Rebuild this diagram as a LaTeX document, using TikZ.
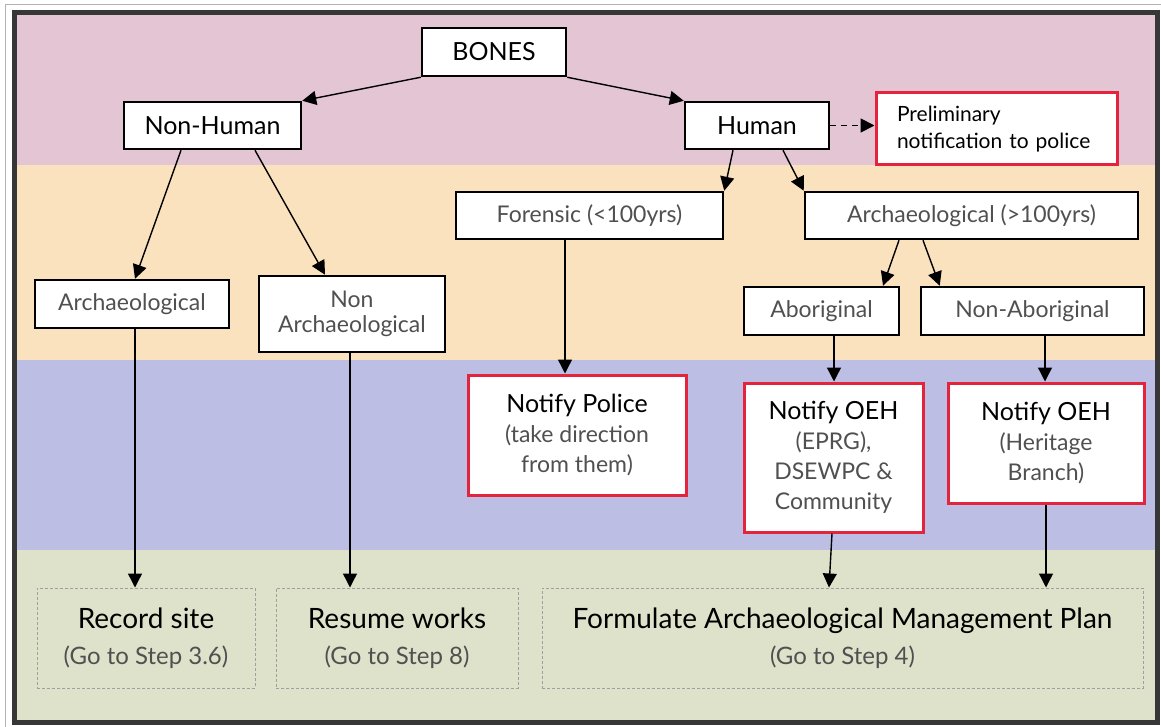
\documentclass[tikz,border=0pt]{standalone}
\usepackage{fontspec}
\setmainfont{Lato}
\usetikzlibrary{arrows.meta}

\definecolor{bandpink}{RGB}{228,197,212}
\definecolor{bandpeach}{RGB}{250,226,190}
\definecolor{bandblue}{RGB}{188,190,228}
\definecolor{bandsage}{RGB}{222,226,202}
\definecolor{alertred}{RGB}{228,36,60}
\definecolor{inkgray}{RGB}{80,80,80}
\definecolor{framegray}{RGB}{55,55,55}

\begin{document}
\begin{tikzpicture}[x=1pt, y=-1pt, >={Triangle[length=14pt,width=14pt]},
    box/.style={draw=black, fill=white, line width=2.5pt, inner sep=0pt, align=center},
    redbox/.style={draw=alertred, fill=white, line width=3pt, inner sep=0pt, align=center},
    stepbox/.style={draw=gray!75, densely dashed, line width=1pt, inner sep=0pt, align=center},
    flow/.style={->, line width=1.4pt},
    headtxt/.style={font=\fontsize{25}{30}\selectfont},
    lighttxt/.style={font=\fontsize{23}{25}\selectfont, text=inkgray}]
    \useasboundingbox (0,0) rectangle (1161,727);

    % frame
    \fill[white] (0,0) rectangle (1161,727);
    \draw[gray!60, line width=1pt] (5,727) -- (5,5) -- (1161,5);
    \fill[bandpink] (14,13) rectangle (1157,165);
    \fill[bandpeach] (14,165) rectangle (1157,360);
    \fill[bandblue] (14,360) rectangle (1157,550);
    \fill[bandsage] (14,550) rectangle (1157,722);
    \draw[framegray, line width=5pt] (14,13) rectangle (1157,722);

    % first split
    \node[box, headtxt, minimum width=144pt, minimum height=48pt] (bones) at (494,52) {BONES};
    \node[box, headtxt, minimum width=177pt, minimum height=47pt] (nonhuman) at (212.5,125.5) {Non-Human};
    \node[box, headtxt, minimum width=144pt, minimum height=47pt] (human) at (757,125.5) {Human};
    \node[redbox, font=\fontsize{21}{27}\selectfont, align=left, text width=199pt, inner xsep=21pt, minimum height=72pt] (prelim) at (996.5,129) {Preliminary\\notification to police};

    % age
    \node[box, lighttxt, minimum width=267pt, minimum height=47pt] (forensic) at (589.5,215.5) {Forensic (<100yrs)};
    \node[box, lighttxt, minimum width=333pt, minimum height=47pt] (arch2) at (971.5,215.5) {Archaeological (>100yrs)};

    % second level
    \node[box, lighttxt, minimum width=194pt, minimum height=48pt] (arch1) at (132,304) {Archaeological};
    \node[box, lighttxt, minimum width=186pt, minimum height=76pt] (nonarch) at (352,314) {Non\\Archaeological};
    \node[box, lighttxt, minimum width=155pt, minimum height=48pt] (abor) at (821.5,311) {Aboriginal};
    \node[box, lighttxt, minimum width=223pt, minimum height=48pt] (nonabor) at (1032.5,311) {Non-Aboriginal};

    % notify
    \node[redbox, lighttxt, font=\fontsize{23}{30}\selectfont, minimum width=218pt, minimum height=120pt] (police) at (577,435)
        {{\color{black}\fontsize{25}{30}\selectfont Notify Police}\\(take direction\\from them)};
    \node[redbox, lighttxt, font=\fontsize{23}{30}\selectfont, minimum width=179pt, minimum height=149pt] (oeh1) at (833.5,457.5)
        {{\color{black}\fontsize{25}{30}\selectfont Notify OEH}\\(EPRG),\\DSEWPC \&\\Community};
    \node[redbox, lighttxt, font=\fontsize{23}{30}\selectfont, minimum width=196pt, minimum height=120pt] (oeh2) at (1046,443)
        {{\color{black}\fontsize{25}{30}\selectfont Notify OEH}\\(Heritage\\Branch)};

    % steps
    \node[stepbox, font=\fontsize{24}{36}\selectfont, minimum width=218pt, minimum height=100pt] (rec) at (146,638)
        {{\fontsize{28}{36}\selectfont Record site}\\{\color{inkgray}(Go to Step 3.6)}};
    \node[stepbox, font=\fontsize{24}{36}\selectfont, minimum width=242pt, minimum height=100pt] (resume) at (397,638)
        {{\fontsize{28}{36}\selectfont Resume works}\\{\color{inkgray}(Go to Step 8)}};
    \node[stepbox, font=\fontsize{24}{36}\selectfont, minimum width=601pt, minimum height=100pt] (formulate) at (842.5,638)
        {{\fontsize{28}{36}\selectfont Formulate Archaeological Management Plan}\\{\color{inkgray}(Go to Step 4)}};

    % connectors
    \draw[flow] (bones.south west) -- (nonhuman.north east);
    \draw[flow] (bones.south east) -- (human.north west);
    \draw[flow, line width=1.8pt, dash pattern=on 6pt off 5pt] (human.east) -- (human.east -| prelim.west);
    \draw[flow] ([xshift=-24pt]human.south) -- (forensic.north east);
    \draw[flow] ([xshift=26pt]human.south) -- (arch2.north west);
    \draw[flow] ([xshift=-31.5pt]nonhuman.south) -- ([xshift=3pt]arch1.north);
    \draw[flow] ([xshift=42.5pt]nonhuman.south) -- ([xshift=-27pt]nonarch.north);
    \draw[flow] ([xshift=-72.5pt]arch2.south) -- ([xshift=61.5pt]abor.north);
    \draw[flow] ([xshift=-48.5pt]arch2.south) -- ([xshift=20pt]nonabor.north west);
    \draw[flow] ([xshift=-24.5pt]forensic.south) -- ([xshift=-24.5pt]forensic.south |- police.north);
    \draw[flow] ([xshift=12.5pt]abor.south) -- ([xshift=12.5pt]abor.south |- oeh1.north);
    \draw[flow] ([xshift=12.5pt]nonabor.south) -- ([xshift=12.5pt]nonabor.south |- oeh2.north);
    \draw[flow] ([xshift=3pt]arch1.south) -- ([xshift=3pt]arch1.south |- rec.north);
    \draw[flow] ([xshift=-2pt]nonarch.south) -- ([xshift=-2pt]nonarch.south |- resume.north);
    \draw[flow] ([xshift=-1.5pt]oeh1.south) -- ([xshift=-13.5pt]formulate.north);
    \draw[flow] (oeh2.south) -- (oeh2.south |- formulate.north);
\end{tikzpicture}
\end{document}
